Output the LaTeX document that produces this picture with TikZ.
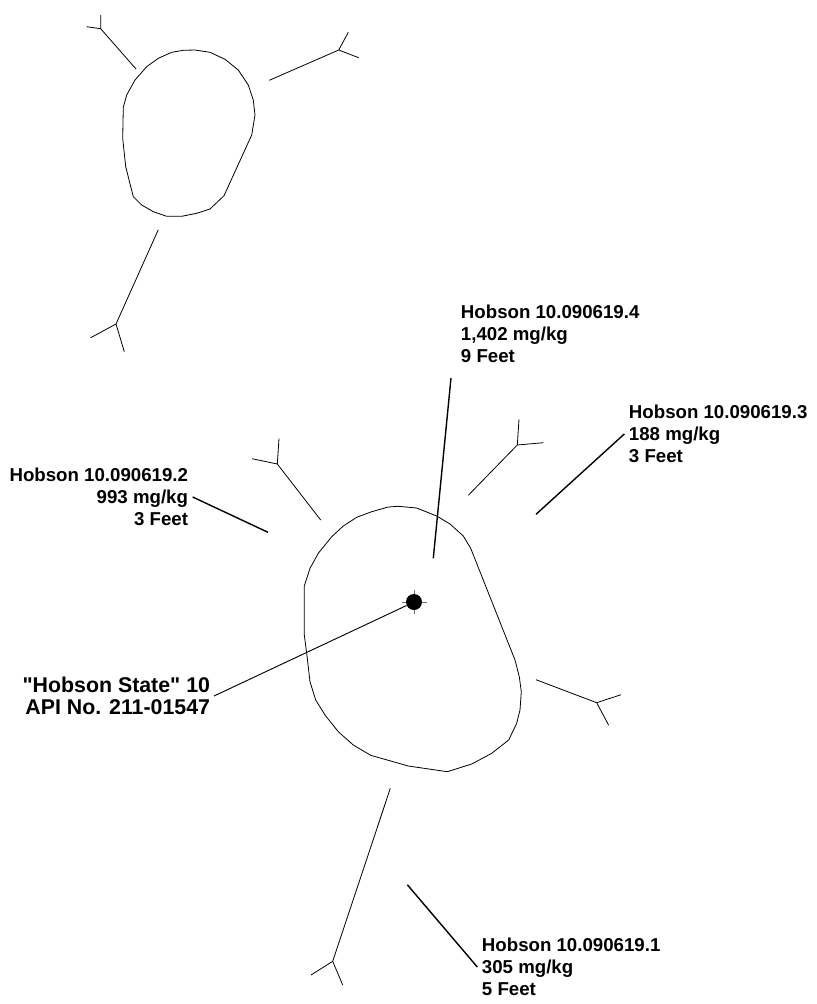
\documentclass[tikz,border=0pt]{standalone}
\usepackage{fontspec}
\newfontfamily\labelfont{Liberation Sans}
\definecolor{wellgray}{RGB}{110,110,110}
\tikzset{
  contour/.style={line width=0.6pt, line join=round},
  fork/.style={line width=0.6pt, line join=round},
  leader/.style={line width=1.05pt},
  pointer/.style={line width=0.7pt},
  sample/.style={font=\labelfont\fontsize{14}{16.4}\selectfont\bfseries, inner sep=0pt, outer sep=3.5pt},
  wellname/.style={font=\labelfont\fontsize{16}{16.6}\selectfont\bfseries, inner sep=0pt, outer sep=3pt, align=right}
}
\begin{document}
\begin{tikzpicture}[x=0.75pt,y=-0.75pt]
  \useasboundingbox (0,0) rectangle (817,1004);

  % Upper contour
  \draw[contour] (195,50) -- (210,52.3) -- (225,59.3) -- (238.3,70) -- (248.3,85) -- (253.3,100) -- (255,115) -- (251.7,135) -- (224,195.7) -- (210,209) -- (196.7,213.3) -- (181.7,216.3) -- (166.7,216.3) -- (153.3,211.7) -- (141.7,205) -- (133.3,196.7) -- (125.7,166.7) -- (122.7,138.3) -- (123.3,107.3) -- (126.7,95) -- (135,80) -- (146.7,66.7) -- (158.3,58.3) -- (171.7,52.3) -- (183.3,50.3) -- cycle;
  \draw[fork] (136,69) -- (100.7,28.7) -- (100.7,15) (86.7,26.7) -- (100.7,28.7);
  \draw[fork] (269.3,80.3) -- (338.7,50) -- (348.3,32.3) (358.7,57.7) -- (338.7,50);
  \draw[fork] (158.3,229.7) -- (116,324) -- (90.7,337.7) (124.3,351.7) -- (116,324);

  % Lower contour
  \draw[contour] (398.3,506.3) -- (416.7,508) -- (436.7,516) -- (450,524) -- (463.3,536) -- (470.7,548.3) -- (515,660) -- (519.3,676.7) -- (521.3,691.7) -- (520,710) -- (516.7,723.3) -- (508.7,740) -- (491.7,753.3) -- (471.7,764) -- (447.3,771.7) -- (408.3,766) -- (370.7,755.3) -- (353.3,745) -- (338.3,731.7) -- (325,715) -- (315.7,700) -- (310,681.7) -- (306.7,653.3) -- (304.3,635) -- (304.3,586) -- (310,568.3) -- (318.3,553.3) -- (331.7,536.7) -- (343.3,526) -- (356.7,517.3) -- (371.7,511.7) -- (388.3,507) -- cycle;
  \draw[fork] (320.7,520) -- (277.3,464) -- (279,438.7) (252,458.7) -- (277.3,464);
  \draw[fork] (468.3,495.3) -- (517.3,445) -- (519,419.3) (543.3,442.7) -- (517.3,445);
  \draw[fork] (536,679.7) -- (596.7,702.7) -- (621,694.7) (608.7,725.3) -- (596.7,702.7);
  \draw[fork] (390.3,788.3) -- (332.7,961.3) -- (311,975) (342.7,985) -- (332.7,961.3);

  % Well
  \draw[wellgray, line width=0.5pt] (402,602) -- (427,602) (414,590) -- (414,614);
  \node[circle, fill=black, inner sep=0pt, minimum size=12pt] (well) at (414,602) {};
  \node[wellname, anchor=east] (wellname) at (214,696) {"Hobson State" 10\\API No. 211-01547};
  \draw[pointer] (wellname.east) -- (well);

  % Samples
  \node[sample, anchor=west, align=left] (s4) at (456.3,334) {Hobson 10.090619.4\\1,402 mg/kg\\9 Feet};
  \node[sample, anchor=west, align=left] (s3) at (624.3,434) {Hobson 10.090619.3\\188 mg/kg\\3 Feet};
  \node[sample, anchor=east, align=right] (s2) at (192.7,497) {Hobson 10.090619.2\\993 mg/kg\\3 Feet};
  \node[sample, anchor=west, align=left] (s1) at (477.3,967) {Hobson 10.090619.1\\305 mg/kg\\5 Feet};

  \coordinate (e4) at (433.3,558.3);
  \coordinate (e3) at (536,514.3);
  \coordinate (e2) at (268,532.3);
  \coordinate (e1) at (407.3,884.7);
  \coordinate (t4) at (451,378);
  \draw[leader] (t4) -- (e4);
  \draw[leader] (s3.west) -- (e3);
  \draw[leader] (s2.east) -- (e2);
  \draw[leader] (s1.west) -- (e1);
\end{tikzpicture}
\end{document}
